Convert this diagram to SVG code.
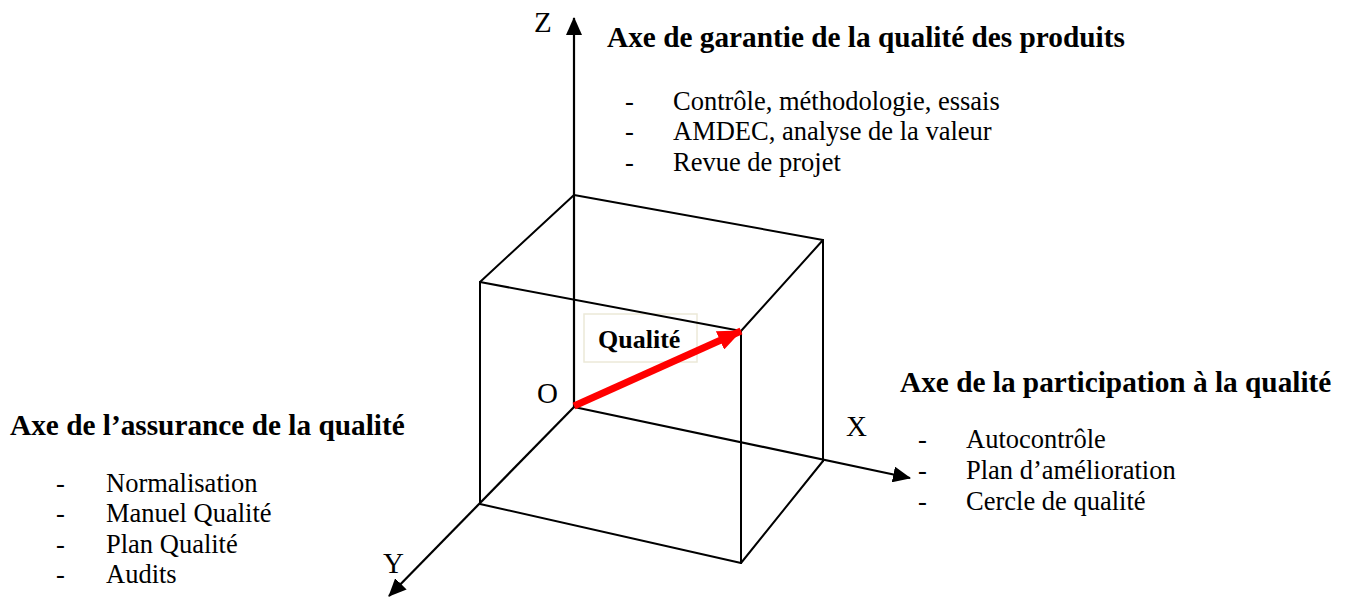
<svg xmlns="http://www.w3.org/2000/svg" width="1346" height="597" viewBox="0 0 1346 597">
<style>
.t{font-family:"Liberation Serif","Times New Roman",serif;fill:#000}
.title{font-size:29.3px;font-weight:bold}
.item{font-size:26.5px}
.lab{font-size:29px}
.edge{stroke:#000;stroke-width:2;fill:none;stroke-linecap:round}
.axis{stroke:#000;stroke-width:2.2;fill:none}
</style>
<defs>
<marker id="ah" markerUnits="userSpaceOnUse" markerWidth="18" markerHeight="16" refX="17" refY="8" orient="auto" viewBox="0 0 18 16">
<path d="M0,0 L18,8 L0,16 z" fill="#000"/>
</marker>
<marker id="rh" markerUnits="userSpaceOnUse" markerWidth="24" markerHeight="20" refX="23" refY="10" orient="auto" viewBox="0 0 24 20">
<path d="M0,0 L24,10 L0,20 z" fill="#ff0000"/>
</marker>
</defs>
<rect width="1346" height="597" fill="#fff"/>
<g id="qualite-box">
<rect x="584" y="314" width="113" height="48" fill="none" stroke="#ece9d8" stroke-width="1.5"/>
</g>
<g id="connectors">
<g id="cube">
<line class="edge" x1="574" y1="195" x2="823" y2="240"/>
<line class="edge" x1="574" y1="195" x2="480" y2="282"/>
<line class="edge" x1="823" y1="240" x2="741" y2="331"/>
<line class="edge" x1="480" y1="282" x2="741" y2="331"/>
<line class="edge" x1="480" y1="282" x2="480" y2="504"/>
<line class="edge" x1="741" y1="331" x2="741" y2="563"/>
<line class="edge" x1="823" y1="240" x2="823" y2="461"/>
<line class="edge" x1="480" y1="504" x2="741" y2="563"/>
<line class="edge" x1="741" y1="563" x2="823" y2="461"/>
</g>
<line id="axisZ" class="axis" x1="574" y1="407" x2="574" y2="18" marker-end="url(#ah)"/>
<line id="axisX" class="axis" x1="574" y1="407" x2="910" y2="478" marker-end="url(#ah)"/>
<line id="axisY" class="axis" x1="574" y1="407" x2="389" y2="596" marker-end="url(#ah)"/>
</g>
<g id="qualite">
<line x1="574" y1="406" x2="741" y2="331" stroke="#ff0000" stroke-width="7" marker-end="url(#rh)"/>
<text class="t" x="598" y="348" font-size="26" font-weight="bold">Qualité</text>
</g>
<g id="labels">
<text class="t lab" x="534" y="32">Z</text>
<text class="t lab" x="846" y="436">X</text>
<text class="t lab" x="537" y="403">O</text>
<text class="t lab" x="383" y="573">Y</text>
</g>
<g id="node-z">
<text class="t title" x="607" y="47">Axe de garantie de la qualité des produits</text>
<text class="t item" x="625" y="110">-</text>
<text class="t item" x="673" y="110">Contrôle, méthodologie, essais</text>
<text class="t item" x="625" y="140">-</text>
<text class="t item" x="673" y="140">AMDEC, analyse de la valeur</text>
<text class="t item" x="625" y="171">-</text>
<text class="t item" x="673" y="171">Revue de projet</text>
</g>
<g id="node-y">
<text class="t title" x="10" y="435">Axe de l’assurance de la qualité</text>
<text class="t item" x="56" y="492">-</text>
<text class="t item" x="106" y="492">Normalisation</text>
<text class="t item" x="56" y="522">-</text>
<text class="t item" x="106" y="522">Manuel Qualité</text>
<text class="t item" x="56" y="553">-</text>
<text class="t item" x="106" y="553">Plan Qualité</text>
<text class="t item" x="56" y="583">-</text>
<text class="t item" x="106" y="583">Audits</text>
</g>
<g id="node-x">
<text class="t title" x="900" y="392">Axe de la participation à la qualité</text>
<text class="t item" x="918" y="448">-</text>
<text class="t item" x="966" y="448">Autocontrôle</text>
<text class="t item" x="918" y="479">-</text>
<text class="t item" x="966" y="479">Plan d’amélioration</text>
<text class="t item" x="918" y="510">-</text>
<text class="t item" x="966" y="510">Cercle de qualité</text>
</g>
</svg>
